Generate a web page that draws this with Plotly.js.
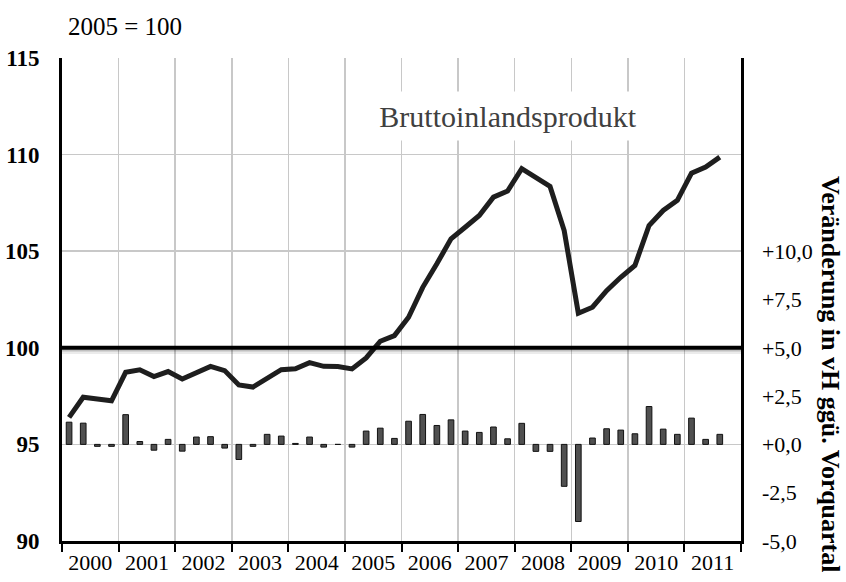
<!DOCTYPE html>
<html>
<head>
<meta charset="utf-8">
<script src="https://cdn.plot.ly/plotly-3.0.1.min.js"></script>
<style>html,body{margin:0;padding:0;background:#fff;}#chart{width:846px;height:582px;}</style>
</head>
<body>
<div id="chart"></div>
<script>
// Year tick labels (each year spans four quarters, starting 2000 Q1)
const yearLabels = ['2000','2001','2002','2003','2004','2005','2006','2007','2008','2009','2010','2011'];
const firstYear = 2000;

// Bruttoinlandsprodukt, price-adjusted index 2005 = 100, quarterly from 2000 Q1 to 2011 Q3
const bip = [
  96.40, 97.44, 97.35, 97.26,
  98.73, 98.86, 98.51, 98.77,
  98.39, 98.73, 99.04, 98.82,
  98.08, 97.97, 98.44, 98.87,
  98.91, 99.23, 99.04, 99.03,
  98.91, 99.48, 100.34, 100.63,
  101.58, 103.13, 104.35, 105.64,
  106.24, 106.85, 107.80, 108.11,
  109.27, 108.83, 108.35, 106.07,
  101.79, 102.10, 102.96, 103.65,
  104.26, 106.33, 107.11, 107.63,
  109.04, 109.35, 109.87
];

// Veränderung in vH ggü. Vorquartal
const change = [
  1.15, 1.10, -0.10, -0.10,
  1.54, 0.15, -0.30, 0.26,
  -0.35, 0.38, 0.40, -0.19,
  -0.78, -0.10, 0.52, 0.43,
  0.05, 0.38, -0.14, 0.00,
  -0.14, 0.69, 0.84, 0.31,
  1.20, 1.55, 0.98, 1.27,
  0.69, 0.62, 0.90, 0.29,
  1.09, -0.36, -0.36, -2.17,
  -3.99, 0.33, 0.81, 0.74,
  0.55, 1.96, 0.79, 0.52,
  1.36, 0.26, 0.52
];

const leftTickVals = [90, 95, 100, 105, 110, 115];
const rightTickVals = [-5, -2.5, 0, 2.5, 5, 7.5, 10];
const rightTickText = ['-5,0', '-2,5', '+0,0', '+2,5', '+5,0', '+7,5', '+10,0'];

const xq = bip.map((_, i) => firstYear + (i + 0.5) / 4);
const yearCenters = yearLabels.map((_, k) => firstYear + k + 0.5);
const yearBounds = yearLabels.map((_, k) => firstYear + k).concat([firstYear + yearLabels.length]);

const serif = 'Liberation Serif';

const traces = [
  {
    type: 'bar', x: xq, y: change, yaxis: 'y2', width: 0.1,
    marker: {color: '#505050', line: {color: '#111', width: 1}},
    hoverinfo: 'skip', showlegend: false
  },
  {
    type: 'scatter', mode: 'lines', x: xq, y: bip,
    line: {color: '#1e1e1e', width: 5},
    hoverinfo: 'skip', showlegend: false
  }
];

const layout = {
  width: 846, height: 582,
  margin: {l: 62, r: 105, t: 58, b: 41},
  paper_bgcolor: '#fff', plot_bgcolor: '#fff',
  font: {family: serif, color: '#000'},
  showlegend: false,
  xaxis: {
    range: [firstYear, firstYear + yearLabels.length],
    tickmode: 'array', tickvals: yearCenters, ticktext: yearLabels,
    ticks: '', showgrid: false, zeroline: false,
    showline: true, linecolor: '#000', linewidth: 2.5,
    tickfont: {family: serif, size: 22, color: '#000'},
    ticklabelstandoff: 0,
    minor: {
      tickmode: 'array', tickvals: yearBounds,
      ticks: 'outside', ticklen: 8, tickwidth: 2, tickcolor: '#000',
      showgrid: true, gridcolor: '#c8c8c8', gridwidth: 1.5
    },
    fixedrange: true
  },
  yaxis: {
    range: [90, 115], tickmode: 'array', tickvals: leftTickVals,
    ticks: '', showgrid: true, gridcolor: '#c8c8c8', gridwidth: 1.5,
    zeroline: false, showline: true, linecolor: '#000', linewidth: 3,
    tickfont: {family: serif, size: 23, color: '#000', weight: 'bold'},
    ticklabelstandoff: 15,
    fixedrange: true
  },
  yaxis2: {
    overlaying: 'y', side: 'right', range: [-5, 20],
    tickmode: 'array', tickvals: rightTickVals, ticktext: rightTickText,
    ticks: '', showgrid: false, zeroline: false,
    showline: true, linecolor: '#000', linewidth: 2.5,
    tickfont: {family: serif, size: 22, color: '#000'},
    ticklabelstandoff: 14,
    fixedrange: true
  },
  shapes: [
    {type: 'line', xref: 'paper', yref: 'y', x0: 0, x1: 1, y0: 99.78, y1: 99.78,
     line: {color: 'rgba(0,0,0,0.08)', width: 4}, layer: 'above'},
    {type: 'line', xref: 'paper', yref: 'y', x0: 0, x1: 1, y0: 99.88, y1: 99.88,
     line: {color: 'rgba(0,0,0,0.18)', width: 3}, layer: 'above'},
    {type: 'line', xref: 'paper', yref: 'y', x0: 0, x1: 1, y0: 100, y1: 100,
     line: {color: '#000', width: 4}, layer: 'above'}
  ],
  annotations: [
    {text: '2005 = 100', xref: 'paper', yref: 'paper', x: 0.006, y: 1.066,
     xanchor: 'left', yanchor: 'middle', showarrow: false,
     font: {family: serif, size: 25, color: '#000'}},
    {text: 'Bruttoinlandsprodukt', xref: 'paper', yref: 'paper', x: 0.657, y: 0.88,
     xanchor: 'center', yanchor: 'middle', showarrow: false,
     width: 300, height: 46, bgcolor: '#fff',
     font: {family: serif, size: 30, color: '#404040'}},
    {text: 'Veränderung in vH ggü. Vorquartal', xref: 'paper', yref: 'paper',
     x: 1.131, y: 0.344, xanchor: 'center', yanchor: 'middle', textangle: 90,
     showarrow: false,
     font: {family: serif, size: 26, color: '#000', weight: 'bold'}}
  ]
};

Plotly.newPlot('chart', traces, layout, {staticPlot: true, displayModeBar: false});
</script>
</body>
</html>
